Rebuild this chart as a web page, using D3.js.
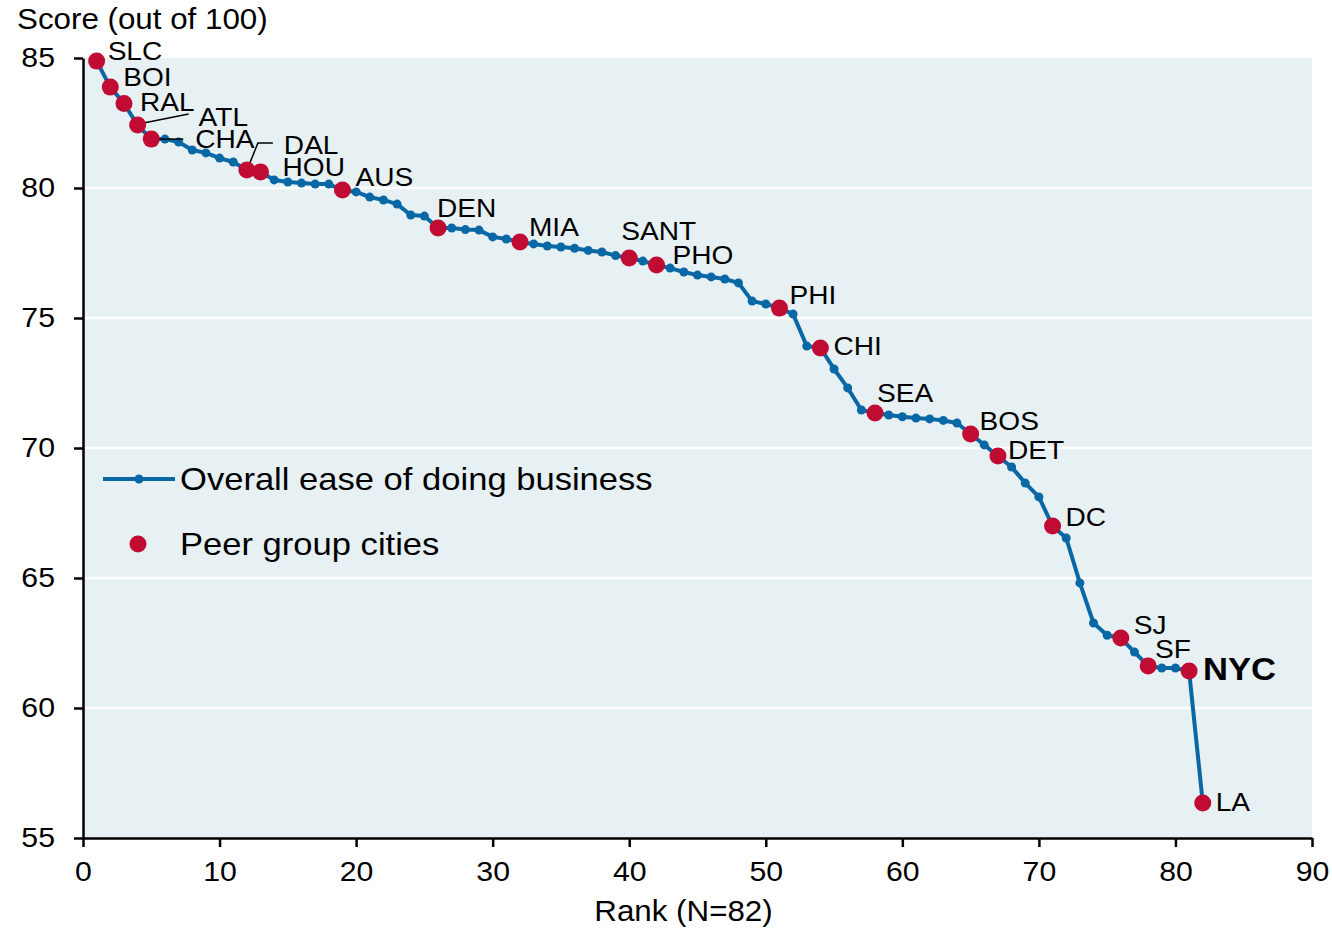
<!DOCTYPE html>
<html lang="en">
    <head>
       <script src="https://d3js.org/d3.v7.min.js"></script>
       <style>
           body { margin: 0; background: #ffffff; }
           text { font-family: "Liberation Sans", Arial, sans-serif; fill: #000000; }
       </style>
    </head>
    <body>

        <script>
            var width  = 1332;
            var height = 930;

            // overall ease of doing business score, by rank (1..82)
            var ranks = d3.range(1, 83);
            var scores = [
                84.88, 83.88, 83.25, 82.42, 81.88, 81.88, 81.77, 81.46, 81.35, 81.15,
                81.00, 80.69, 80.62, 80.31, 80.23, 80.19, 80.15, 80.15, 79.92, 79.85,
                79.65, 79.54, 79.38, 78.96, 78.92, 78.46, 78.46, 78.40, 78.38, 78.12,
                78.04, 77.92, 77.85, 77.77, 77.73, 77.68, 77.60, 77.54, 77.40, 77.31,
                77.19, 77.04, 76.92, 76.77, 76.65, 76.58, 76.50, 76.35, 75.65, 75.54,
                75.38, 75.15, 73.92, 73.85, 73.04, 72.31, 71.46, 71.35, 71.27, 71.20,
                71.15, 71.12, 71.06, 70.96, 70.54, 70.12, 69.69, 69.27, 68.65, 68.12,
                67.00, 66.54, 64.81, 63.27, 62.80, 62.69, 62.15, 61.62, 61.54, 61.54,
                61.42, 56.35
            ];

            // peer group cities and their rank
            var peerCities = ["SLC", "BOI", "RAL", "ATL", "CHA", "DAL", "HOU", "AUS", "DEN", "MIA", "SANT",
                              "PHO", "PHI", "CHI", "SEA", "BOS", "DET", "DC", "SJ", "SF", "NYC", "LA"];
            var peerRanks  = [1, 2, 3, 4, 5, 12, 13, 19, 26, 32, 40,
                              42, 51, 54, 58, 65, 67, 71, 76, 78, 81, 82];

            // axis ticks
            var xTicks = [0, 10, 20, 30, 40, 50, 60, 70, 80, 90];
            var yTicks = [55, 60, 65, 70, 75, 80, 85];

            // label placement (pixel offset from the dot), layout only
            var labelOffsets = {
                SLC: [11, -10], BOI: [13, -10], RAL: [16, -2], ATL: [61, -8], CHA: [44, 0],
                DAL: [37, -25], HOU: [22, -5], AUS: [13, -13], DEN: [-1, -20], MIA: [9, -15],
                SANT: [-8, -27], PHO: [16, -10], PHI: [10, -13], CHI: [13, -2], SEA: [2, -20],
                BOS: [9, -13], DET: [10, -6], DC: [13, -9], SJ: [13, -13], SF: [7, -17],
                NYC: [14, -2], LA: [13, -1]
            };
            // leader lines for crowded labels
            var leaders = {
                ATL: [[1, -1], [51, -11]],
                CHA: [[1, 0], [32, 0]],
                DAL: [[1, -2], [11, -27], [26, -27]]
            };

            var blue = "#0868a6";
            var red  = "#c00c33";

            var plotLeft = 83, plotRight = 1312, plotTop = 58, plotBottom = 838;

            var x = d3.scaleLinear().domain([0, 90]).range([plotLeft, plotRight]);
            var y = d3.scaleLinear().domain([55, 85]).range([plotBottom, plotTop]);

            // setup the canvas
            var svg = d3.select("body")
                        .append("svg")
                        .attr("id", "canvas")
                        .attr("width", width)
                        .attr("height", height);

            // plot background
            svg.append("rect")
               .attr("x", plotLeft)
               .attr("y", plotTop)
               .attr("width", plotRight - plotLeft)
               .attr("height", plotBottom - plotTop)
               .style("fill", "#e7f0f3");

            // white gridlines
            svg.selectAll(".grid")
               .data(yTicks.filter(function (d) { return d > 55 && d < 85; }))
               .enter()
               .append("line")
               .attr("x1", plotLeft)
               .attr("x2", plotRight)
               .attr("y1", function (d) { return y(d); })
               .attr("y2", function (d) { return y(d); })
               .attr("stroke", "#ffffff")
               .attr("stroke-width", 2.5);

            // axes
            var yAxis = svg.append("g")
               .attr("transform", "translate(" + plotLeft + ",0)")
               .call(d3.axisLeft(y).tickValues(yTicks).tickSize(9).tickSizeOuter(0).tickPadding(19));
            var xAxis = svg.append("g")
               .attr("transform", "translate(0," + plotBottom + ")")
               .call(d3.axisBottom(x).tickValues(xTicks).tickSize(9).tickSizeOuter(0).tickPadding(14));

            [yAxis, xAxis].forEach(function (ax) {
                ax.select(".domain").attr("stroke", "#000").attr("stroke-width", 2.5);
                ax.selectAll(".tick line").attr("stroke", "#000").attr("stroke-width", 2.5);
                ax.selectAll(".tick text")
                  .style("font-family", "'Liberation Sans', Arial, sans-serif")
                  .style("font-size", "28px")
                  .attr("fill", "#000");
            });

            // axis titles
            svg.append("text")
               .attr("x", 17)
               .attr("y", 29)
               .style("font-size", "29px")
               .text("Score (out of 100)");

            svg.append("text")
               .attr("x", (plotLeft + plotRight) / 2 - 14)
               .attr("y", 921)
               .attr("text-anchor", "middle")
               .style("font-size", "29px")
               .text("Rank (N=82)");

            // main line
            var line = d3.line()
                         .x(function (d, i) { return x(ranks[i]); })
                         .y(function (d) { return y(d); });

            svg.append("path")
               .datum(scores)
               .attr("d", line)
               .attr("fill", "none")
               .attr("stroke", blue)
               .attr("stroke-width", 4)
               .attr("stroke-linejoin", "round");

            svg.selectAll(".pt")
               .data(scores)
               .enter()
               .append("circle")
               .attr("cx", function (d, i) { return x(ranks[i]); })
               .attr("cy", function (d) { return y(d); })
               .attr("r", 4.5)
               .style("fill", blue);

            // peer group cities
            var peers = peerCities.map(function (c, i) {
                var r = peerRanks[i];
                return { city: c, rank: r, score: scores[ranks.indexOf(r)] };
            });

            // leader lines
            peers.forEach(function (p) {
                if (!leaders[p.city]) return;
                var cx = x(p.rank), cy = y(p.score);
                svg.append("path")
                   .attr("d", d3.line()(leaders[p.city].map(function (o) { return [cx + o[0], cy + o[1]]; })))
                   .attr("fill", "none")
                   .attr("stroke", "#000")
                   .attr("stroke-width", 1.5);
            });

            svg.selectAll(".peer")
               .data(peers)
               .enter()
               .append("circle")
               .attr("cx", function (d) { return x(d.rank); })
               .attr("cy", function (d) { return y(d.score); })
               .attr("r", 8.5)
               .style("fill", red);

            svg.selectAll(".peerLabel")
               .data(peers)
               .enter()
               .append("text")
               .attr("x", function (d) { return x(d.rank) + labelOffsets[d.city][0]; })
               .attr("y", function (d) { return y(d.score) + labelOffsets[d.city][1]; })
               .attr("dominant-baseline", "central")
               .style("font-size", function (d) { return d.city == "NYC" ? "32px" : "26px"; })
               .style("font-weight", function (d) { return d.city == "NYC" ? "bold" : "normal"; })
               .text(function (d) { return d.city; });

            // legend
            var legend = svg.append("g");
            legend.append("line")
                  .attr("x1", 103).attr("x2", 175)
                  .attr("y1", 479).attr("y2", 479)
                  .attr("stroke", blue)
                  .attr("stroke-width", 4);
            legend.append("circle")
                  .attr("cx", 139).attr("cy", 479).attr("r", 4.5)
                  .style("fill", blue);
            legend.append("text")
                  .attr("x", 180).attr("y", 479)
                  .attr("dominant-baseline", "central")
                  .style("font-size", "32px")
                  .text("Overall ease of doing business");
            legend.append("circle")
                  .attr("cx", 138).attr("cy", 544).attr("r", 8.5)
                  .style("fill", red);
            legend.append("text")
                  .attr("x", 180).attr("y", 544)
                  .attr("dominant-baseline", "central")
                  .style("font-size", "32px")
                  .text("Peer group cities");

            // the original lettering is a little wider than the font, stretch it
            svg.selectAll("text").each(function () {
                var len = this.getComputedTextLength();
                d3.select(this)
                  .attr("textLength", len * 1.08)
                  .attr("lengthAdjust", "spacingAndGlyphs");
            });
        </script>

    </body>
</html>
